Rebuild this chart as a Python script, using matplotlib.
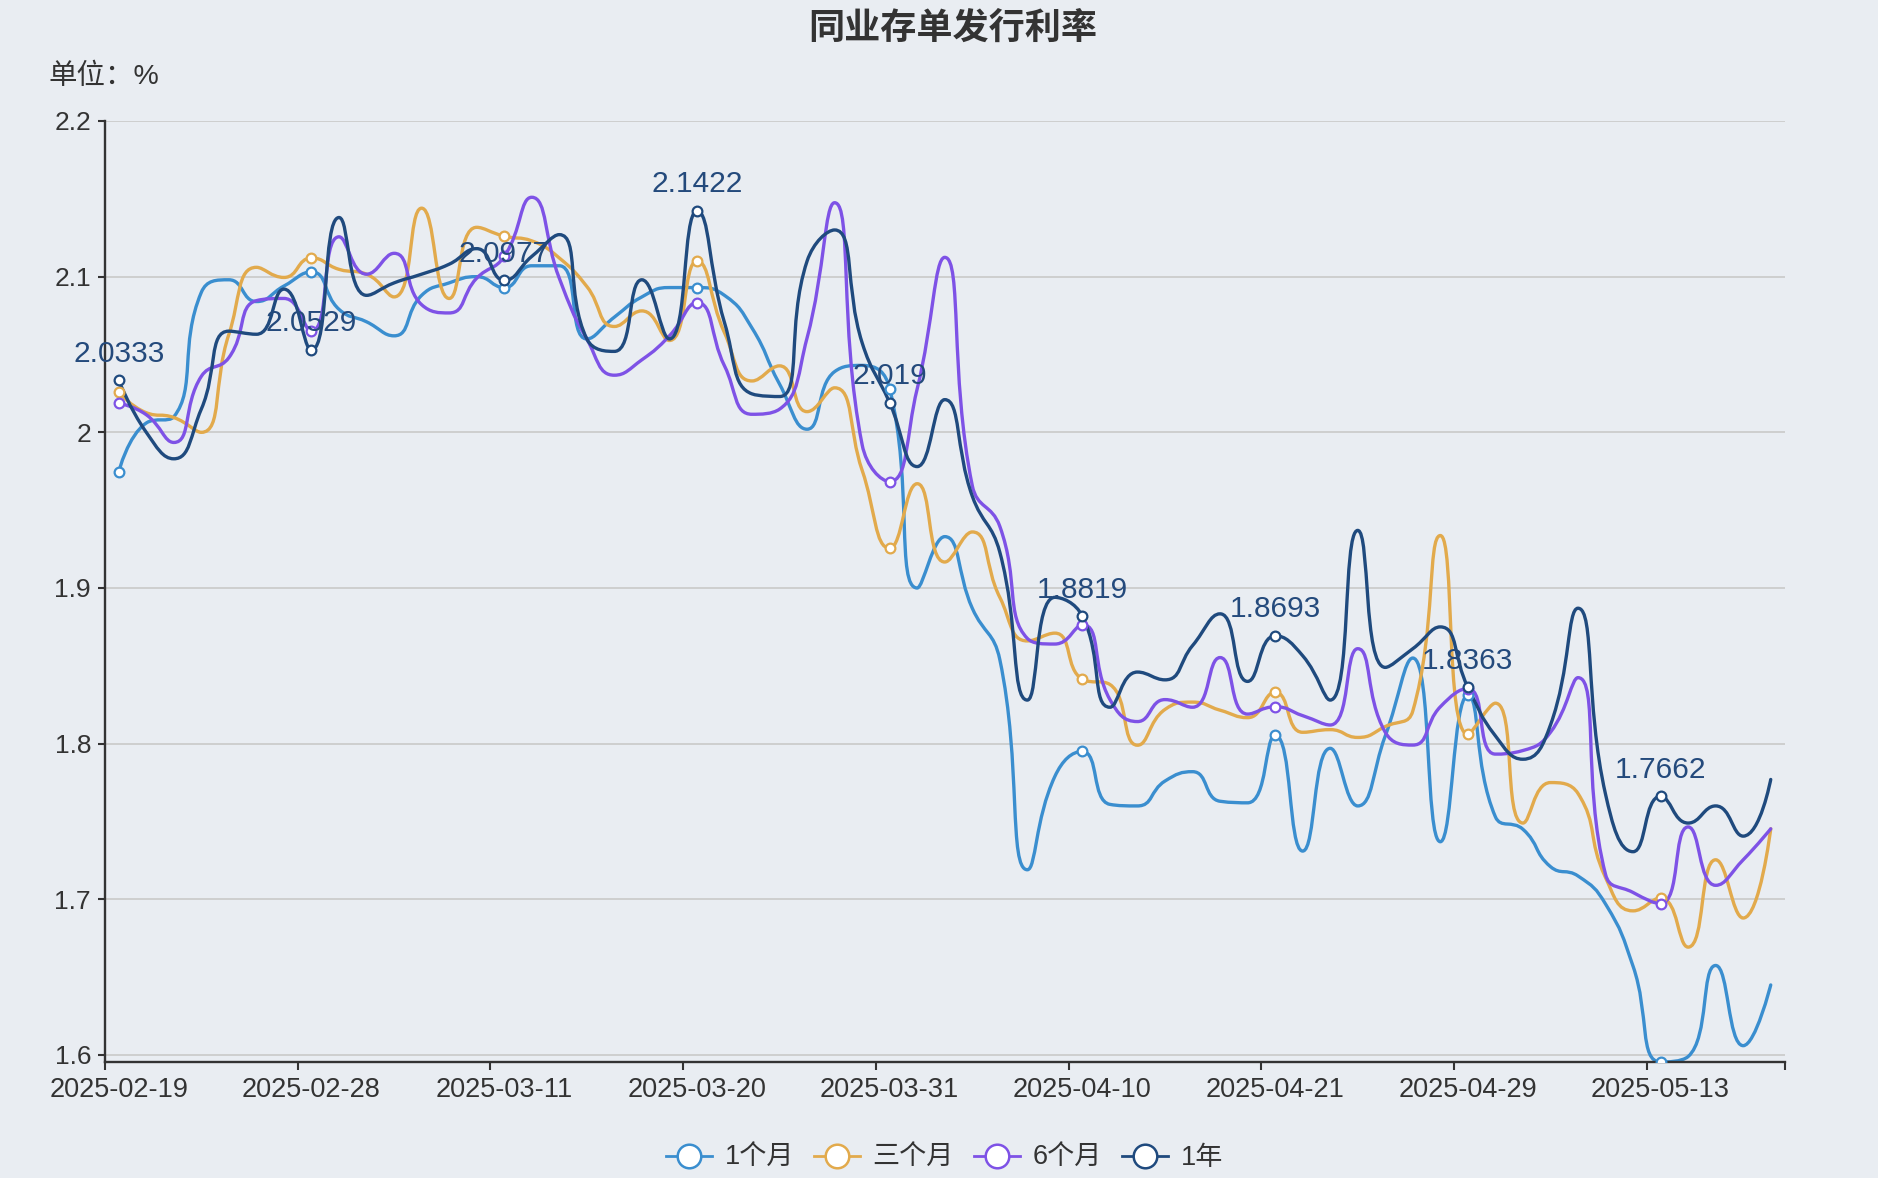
import numpy as np
import matplotlib
matplotlib.use('Agg')
import matplotlib.pyplot as plt
from matplotlib.path import Path
from matplotlib.patches import PathPatch
from matplotlib.lines import Line2D

plt.rcParams['font.family'] = ['Liberation Sans', 'Noto Sans CJK SC', 'DejaVu Sans']

# ---------------- data ----------------
dates = [
    '2025-02-19', '2025-02-20', '2025-02-21', '2025-02-24', '2025-02-25', '2025-02-26', '2025-02-27', '2025-02-28',
    '2025-03-03', '2025-03-04', '2025-03-05', '2025-03-06', '2025-03-07', '2025-03-10', '2025-03-11', '2025-03-12',
    '2025-03-13', '2025-03-14', '2025-03-17', '2025-03-18', '2025-03-19', '2025-03-20', '2025-03-21', '2025-03-24',
    '2025-03-25', '2025-03-26', '2025-03-27', '2025-03-28', '2025-03-31', '2025-04-01', '2025-04-02', '2025-04-03',
    '2025-04-07', '2025-04-08', '2025-04-09', '2025-04-10', '2025-04-11', '2025-04-14', '2025-04-15', '2025-04-16',
    '2025-04-17', '2025-04-18', '2025-04-21', '2025-04-22', '2025-04-23', '2025-04-24', '2025-04-25', '2025-04-27',
    '2025-04-28', '2025-04-29', '2025-04-30', '2025-05-06', '2025-05-07', '2025-05-08', '2025-05-09', '2025-05-12',
    '2025-05-13', '2025-05-14', '2025-05-15', '2025-05-16', '2025-05-19',
]

rate_1m = [
    1.9747, 2.006, 2.010, 2.090, 2.098, 2.084, 2.094, 2.103, 2.079, 2.071,
    2.062, 2.088, 2.096, 2.100, 2.093, 2.107, 2.107, 2.060, 2.074, 2.087,
    2.093, 2.093, 2.088, 2.067, 2.031, 2.002, 2.039, 2.043, 2.028, 1.900,
    1.933, 1.887, 1.854, 1.719, 1.779, 1.795, 1.761, 1.760, 1.776, 1.782,
    1.763, 1.762, 1.8054, 1.731, 1.797, 1.760, 1.805, 1.855, 1.737, 1.831,
    1.753, 1.745, 1.721, 1.715, 1.697, 1.657, 1.5955, 1.599, 1.6575, 1.606,
    1.645,
]
rate_3m = [
    2.0257, 2.0126, 2.0095, 2.000, 2.063, 2.106, 2.0995, 2.112, 2.1047, 2.1016,
    2.087, 2.144, 2.086, 2.1317, 2.126, 2.123, 2.112, 2.0937, 2.068, 2.078,
    2.059, 2.110, 2.064, 2.033, 2.0427, 2.0133, 2.0286, 1.9756, 1.9255, 1.967,
    1.9167, 1.936, 1.894, 1.866, 1.871, 1.8414, 1.838, 1.799, 1.822, 1.8267,
    1.8215, 1.8167, 1.833, 1.8073, 1.809, 1.804, 1.811, 1.821, 1.9337, 1.806,
    1.826, 1.749, 1.775, 1.768, 1.714, 1.6926, 1.7008, 1.6693, 1.7254, 1.688,
    1.7453,
]
rate_6m = [
    2.0189, 2.0113, 1.9935, 2.036, 2.048, 2.0846, 2.086, 2.065, 2.1256, 2.1016,
    2.115, 2.082, 2.0767, 2.099, 2.113, 2.151, 2.099, 2.060, 2.0367, 2.0466,
    2.062, 2.0833, 2.0427, 2.0116, 2.0149, 2.0607, 2.1475, 1.992, 1.9684, 2.028,
    2.1124, 1.9658, 1.9396, 1.8676, 1.864, 1.8764, 1.8283, 1.8142, 1.8283, 1.8234,
    1.8553, 1.819, 1.8237, 1.818, 1.812, 1.861, 1.8073, 1.7991, 1.8237, 1.8354,
    1.7933, 1.7956, 1.8073, 1.8424, 1.716, 1.7044, 1.6973, 1.7465, 1.709, 1.7254,
    1.7453,
]
rate_1y = [
    2.0333, 2.000, 1.983, 2.015, 2.065, 2.063, 2.092, 2.0529, 2.138, 2.088,
    2.096, 2.1016, 2.108, 2.118, 2.0977, 2.113, 2.127, 2.060, 2.052, 2.098,
    2.060, 2.1422, 2.0705, 2.0247, 2.023, 2.110, 2.130, 2.0575, 2.019, 1.978,
    2.021, 1.959, 1.923, 1.828, 1.894, 1.8819, 1.8234, 1.846, 1.841, 1.863,
    1.8834, 1.840, 1.8693, 1.8565, 1.828, 1.937, 1.849, 1.861, 1.875, 1.8363,
    1.805, 1.790, 1.812, 1.887, 1.7675, 1.7306, 1.7662, 1.749, 1.760, 1.7406,
    1.777,
]

series_names = ['1个月', '三个月', '6个月', '1年']
series_values = [rate_1m, rate_3m, rate_6m, rate_1y]
series_colors = ['#3a8ecf', '#e2aa4c', '#7e52e6', '#1f4a7e']
y_ticks = [1.6, 1.7, 1.8, 1.9, 2.0, 2.1, 2.2]
y_tick_labels = ['1.6', '1.7', '1.8', '1.9', '2', '2.1', '2.2']
title = '同业存单发行利率'
unit_text = '单位：%'

BG = '#e9edf2'
W, H = 1878, 1178
label_step = 7

fig = plt.figure(figsize=(W / 100, H / 100), dpi=100, facecolor=BG)
ax_rect = [105 / W, (H - 1062) / H, 1679.5 / W, (1062 - 121) / H]
ax = fig.add_axes(ax_rect, facecolor=BG)

n = len(dates)
x = np.arange(n)
all_vals = np.concatenate([np.asarray(v) for v in series_values])
ymin, ymax = all_vals.min(), 2.2
xmin, xmax = -0.5, n - 0.5
ax.set_xlim(xmin, xmax)
ax.set_ylim(ymin, ymax)

sx = ax_rect[2] * W / (xmax - xmin)
sy = ax_rect[3] * H / (ymax - ymin)


def echarts_smooth_path(xs, ys, smooth=0.5):
    px = np.asarray(xs, float) * sx
    py = np.asarray(ys, float) * sy
    verts = [(px[0], py[0])]
    codes = [Path.MOVETO]
    cpx0, cpy0 = px[0], py[0]
    prevX, prevY = px[0], py[0]
    m = len(px)
    for k in range(1, m):
        xk, yk = px[k], py[k]
        if k + 1 >= m:
            cpx1, cpy1 = xk, yk
            ncx, ncy = xk, yk
        else:
            nextX, nextY = px[k + 1], py[k + 1]
            vx, vy = nextX - prevX, nextY - prevY
            dx0, dy0 = xk - prevX, yk - prevY
            dx1, dy1 = nextX - xk, nextY - yk
            lp = np.hypot(dx0, dy0)
            ln = np.hypot(dx1, dy1)
            r = ln / (ln + lp)
            ncx = xk + vx * smooth * r
            ncy = yk + vy * smooth * r
            ncx = min(ncx, max(nextX, xk)); ncy = min(ncy, max(nextY, yk))
            ncx = max(ncx, min(nextX, xk)); ncy = max(ncy, min(nextY, yk))
            vx, vy = ncx - xk, ncy - yk
            cpx1 = xk - vx * lp / ln
            cpy1 = yk - vy * lp / ln
            cpx1 = min(cpx1, max(prevX, xk)); cpy1 = min(cpy1, max(prevY, yk))
            cpx1 = max(cpx1, min(prevX, xk)); cpy1 = max(cpy1, min(prevY, yk))
            vx, vy = xk - cpx1, yk - cpy1
            ncx = xk + vx * ln / lp
            ncy = yk + vy * ln / lp
        verts += [(cpx0, cpy0), (cpx1, cpy1), (xk, yk)]
        codes += [Path.CURVE4] * 3
        cpx0, cpy0 = ncx, ncy
        prevX, prevY = xk, yk
    verts = np.array(verts)
    verts[:, 0] /= sx
    verts[:, 1] /= sy
    return Path(verts, codes)


# grid
for t in y_ticks:
    ax.axhline(t, color='#cccccc', lw=1.3, zorder=0)

mark_idx = np.arange(0, n, label_step)
for name, vals, col in zip(series_names, series_values, series_colors):
    path = echarts_smooth_path(x, vals)
    ax.add_patch(PathPatch(path, fill=False, edgecolor=col, lw=2.4,
                           joinstyle='round', capstyle='round', zorder=2))
    vv = np.asarray(vals)
    ax.plot(mark_idx, vv[mark_idx], linestyle='none', marker='o', ms=7,
            mfc='white', mec=col, mew=1.6, zorder=4)

# value labels on the 1-year series
yv = np.asarray(rate_1y)
for i in mark_idx:
    ax.annotate(f'{yv[i]:g}', (i, yv[i]), xytext=(0, 9), textcoords='offset points',
                ha='center', va='bottom', fontsize=21.5, color='#244a7c', zorder=5)

# axes styling
for s in ['top', 'right']:
    ax.spines[s].set_visible(False)
for s in ['left', 'bottom']:
    ax.spines[s].set_color('#333333')
    ax.spines[s].set_linewidth(1.7)

ax.set_yticks(y_ticks)
ax.set_yticklabels(y_tick_labels)
ax.tick_params(axis='y', direction='out', length=5, width=1.5, color='#333333',
               labelsize=19, labelcolor='#333333', pad=5)

bounds = list(np.arange(0, n, label_step) - 0.5) + [n - 0.5]
ax.set_xticks(bounds)
ax.set_xticklabels([''] * len(bounds))
ax.tick_params(axis='x', which='major', direction='out', length=6, width=1.5, color='#333333')
ax.set_xticks(list(mark_idx), minor=True)
ax.set_xticklabels([dates[i] for i in mark_idx], minor=True)
ax.tick_params(axis='x', which='minor', length=0, labelsize=19.5, labelcolor='#333333', pad=11)

fig.text(953 / W, 1 - 29 / H, title, ha='center', va='center', fontsize=26,
         fontweight='bold', color='#333333')
fig.text(48 / W, 1 - 77 / H, unit_text, ha='left', va='center', fontsize=20.5, color='#333333')

handles = [Line2D([], [], color=c, lw=2, marker='o', ms=17, mfc='white', mec=c, mew=1.8)
           for c in series_colors]
fig.legend(handles, series_names, loc='center', bbox_to_anchor=(0.503, 20 / H), ncol=4,
           frameon=False, fontsize=19.5, handlelength=1.7, handletextpad=0.45,
           columnspacing=0.75, labelcolor='#333333')

fig.savefig('out.png', dpi=100, facecolor=BG)
